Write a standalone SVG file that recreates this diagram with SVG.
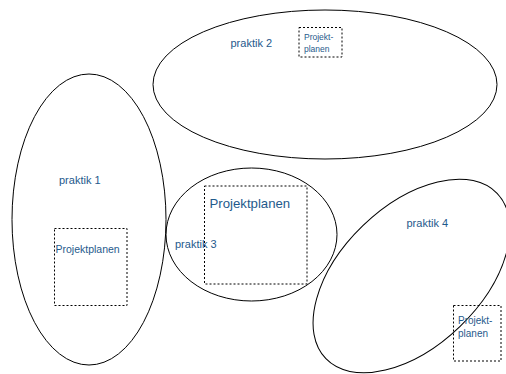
<svg xmlns="http://www.w3.org/2000/svg" width="506" height="374" viewBox="0 0 506 374">
<style>
.shape{fill:none;stroke:#000;stroke-width:1}
.box{fill:none;stroke:#000;stroke-width:1;stroke-dasharray:2 2}
text{font-family:"Liberation Sans",Arial,sans-serif;fill:#1f5a8c}
</style>
<rect width="506" height="374" fill="#fff"/>
<g id="connectors"></g>
<g id="praktik2">
<ellipse class="shape" cx="325" cy="84.5" rx="172" ry="74.5"/>
<text x="230.5" y="47" font-size="11">praktik 2</text>
<rect class="box" x="299" y="27.5" width="43" height="29.5"/>
<text x="304" y="39.5" font-size="8.5">Projekt-</text>
<text x="304" y="51.5" font-size="8.5">planen</text>
</g>
<g id="praktik1">
<ellipse class="shape" cx="89" cy="219.5" rx="77" ry="145.5"/>
<text x="59" y="184" font-size="11">praktik 1</text>
<rect class="box" x="54.5" y="228.5" width="72.5" height="77"/>
<text x="55.5" y="253" font-size="10.5">Projektplanen</text>
</g>
<g id="praktik3">
<ellipse class="shape" cx="251.5" cy="234.5" rx="85.5" ry="66.5"/>
<rect class="box" x="204.5" y="186" width="102.5" height="98"/>
<text x="209.5" y="208" font-size="13.2">Projektplanen</text>
<text x="175" y="248" font-size="11">praktik 3</text>
</g>
<g id="praktik4">
<ellipse class="shape" cx="411.5" cy="276" rx="119" ry="70" transform="rotate(-44 411.5 276)"/>
<text x="406.5" y="227" font-size="11">praktik 4</text>
<rect class="box" x="453.5" y="305.5" width="47.5" height="55.5"/>
<text x="458" y="324" font-size="10">Projekt-</text>
<text x="458" y="336.5" font-size="10">planen</text>
</g>
</svg>
